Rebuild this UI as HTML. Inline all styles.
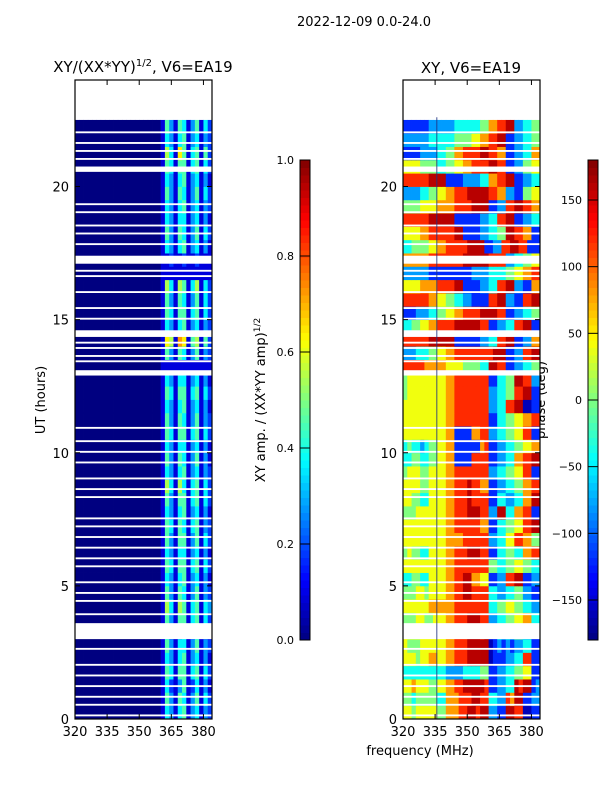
<!DOCTYPE html>
<html><head><meta charset="utf-8"><style>
html,body{margin:0;padding:0;background:#fff;}
svg{display:block;font-family:"DejaVu Sans","Liberation Sans",sans-serif;}
</style></head><body>
<svg id="fig" width="600" height="800" viewBox="0 0 600 800" xmlns="http://www.w3.org/2000/svg">
<text x="364" y="26" font-size="13" text-anchor="middle">2022-12-09 0.0-24.0</text>
<text x="143" y="72" font-size="15" text-anchor="middle">XY/(XX*YY)<tspan font-size="10" dy="-6">1/2</tspan><tspan dy="6">, V6=EA19</tspan></text>
<text x="471" y="73" font-size="15" text-anchor="middle">XY, V6=EA19</text>
<text transform="translate(45,400) rotate(-90)" font-size="13" text-anchor="middle">UT (hours)</text>
<text x="420" y="755" font-size="13" text-anchor="middle">frequency (MHz)</text>
<text transform="translate(265,400) rotate(-90)" font-size="13" text-anchor="middle">XY amp. / (XX*YY amp)<tspan font-size="9" dy="-5">1/2</tspan></text>
<text transform="translate(545,400) rotate(-90)" font-size="13" text-anchor="middle">phase (deg)</text>
<g id="left"></g>
<g id="right"></g>
<g id="axes"></g>
</svg>
<script>
const freqStart = 320, freqEnd = 384, freqStep = 2;
const hourStart = 0, hourEnd = 24, rowHours = 0.5;
const ampSuffix = ["143145134132","153154135142","142135124131","154155145142","143145134131","153144135132","142134124121","153155145142","164165145143","153154135132","143145134131","154155145142","143144134131","153155135142","154154145132","143145134131","153155145142","164164145142","143145134132","153154135131","143144134131","154155145142","153154135132","143145134131","154155145142","143144134131","111111111111","153154135132","176187156152","143145134132","154155145142","153154135142","164165146142","111111111111","112112112111","143145134131","153154135142","143144134131","143145134132","153154135142","143145134131","154155145142","164175145152","143145134132","153154135142"];
const ampRows = ampSuffix.map(s => "00000000000000000000" + s);
const phaseRows = ["55455555446667788788221188770011","44344444336667778877332276881122","55655544556677888887112233878812","33333333332222333344112233445511","55545566556677788888011122337711","54445555556677788888012121223311","55555555556677788878113333442211","44455445556677788877223344556633","55555566666677777777334455443322","44455455556677887777332233442211","33443355556677886655112277881122","55555555556677777777443344554433","45443355556677788877113344336677","55555555556666777777223355776644","55555555556677777766113344557788","44455555556677788877228833667711","55443355556677787777113322336688","55554455556677787766112233446677","45554455556677777777223344557711","33443344556611117777112233667788","34332344556611111167112233445566","55555555556611116677223344557711","55555555556677777777113344556677","55555555556677777777223377880011","45555555556677777777223344778811","45555555556677777777113344887722","77777666665555444433887711223344","22233344556677777777788811227788","77777788888811111122337788112266","33445566777788888877112233778811","11122233445566777788887711223344","77777766554433221111778822117788","55556666777788111122337788221166","22222211111111112222333344556677","66666677777777888888777722334455","33444455667777788881122778877111","55556677777788111122334488776611","77777788888811111122337788112233","44445555666677778888112277887766","22223344556677788888776622114455","77777788881111222233667788112233","55554444334455667777887711224455","11112222334466777788776611223366","22222233333344445566778811223344","11111122222233333344667788223344"];
const gapStarts = [22.55,22.0,21.6,21.3,21.0,20.55,19.3,19.0,18.5,18.2,17.8,17.1,16.8,16.6,16.0,15.4,15.0,14.35,14.1,13.9,13.6,13.4,12.9,10.9,10.4,10.0,9.6,9.0,8.6,8.3,7.5,7.2,6.8,6.4,6.0,5.7,5.1,4.7,4.4,3.9,3.0,2.6,2.0,1.6,1.2,0.8,0.5,0.1];
const gapLengths = [1.45,0.07,0.07,0.07,0.07,0.2,0.07,0.07,0.07,0.07,0.07,0.3,0.07,0.07,0.07,0.07,0.07,0.25,0.07,0.07,0.07,0.07,0.2,0.07,0.07,0.07,0.07,0.07,0.07,0.07,0.07,0.07,0.07,0.07,0.07,0.07,0.07,0.07,0.07,0.07,0.6,0.07,0.07,0.07,0.07,0.07,0.07,0.07];
const yTicks = [0,5,10,15,20];
const xTicks = [320,335,350,365,380];
const ampTicks = [0.0,0.2,0.4,0.6,0.8,1.0];
const phaseTicks = [-150,-100,-50,0,50,100,150];

const NS = "http://www.w3.org/2000/svg";
const panels = [{x0:75,x1:212,id:"left"},{x0:403,x1:540,id:"right"}];
const yTop = 80, yBot = 719;
function yScale(h){ return yBot - (h - hourStart) / (hourEnd - hourStart) * (yBot - yTop); }
function xScale(p,f){ return p.x0 + (f - freqStart) / (freqEnd - freqStart) * (p.x1 - p.x0); }
function jet(v){
  v = Math.max(0, Math.min(1, v));
  const r = Math.max(0, Math.min(1, 1.5 - Math.abs(4*v - 3)));
  const g = Math.max(0, Math.min(1, 1.5 - Math.abs(4*v - 2)));
  const b = Math.max(0, Math.min(1, 1.5 - Math.abs(4*v - 1)));
  return `rgb(${Math.round(r*255)},${Math.round(g*255)},${Math.round(b*255)})`;
}
function mk(tag, attrs, parent){ const e = document.createElementNS(NS, tag); for (const k in attrs) e.setAttribute(k, attrs[k]); parent.appendChild(e); return e; }

function drawHeat(p, rows, toVal){
  const g = document.getElementById(p.id);
  rows.forEach((row, i) => {
    const h0 = hourStart + i*rowHours, h1 = h0 + rowHours;
    for (let j = 0; j < row.length; j++) {
      const f0 = freqStart + j*freqStep;
      const xa = xScale(p, f0), xb = xScale(p, f0 + freqStep);
      const r = mk("rect", {x:xa.toFixed(2), y:yScale(h1).toFixed(2), width:(xb-xa+0.4).toFixed(2), height:(yScale(h0)-yScale(h1)+0.4).toFixed(2), fill:jet(toVal(row[j]))}, g);
      
      
    }
  });
  gapStarts.forEach((gs, k) => {
    const r = mk("rect", {x:p.x0, y:yScale(gs + gapLengths[k]), width:p.x1-p.x0, height:yScale(gs)-yScale(gs+gapLengths[k]), fill:"#fff"}, g);
    
    
  });
}
drawHeat(panels[0], ampRows, c => (+c)/11);
drawHeat(panels[1], phaseRows, c => ((+c)+0.5)/9);
const vl = mk("rect", {x:xScale(panels[1],335.5), y:yScale(22.6), width:1.2, height:yScale(0)-yScale(22.6), fill:"#203080", opacity:0.7}, document.getElementById("right"));



const ax = document.getElementById("axes");
panels.forEach((p, pi) => {
  const fr = mk("rect", {x:p.x0, y:yTop, width:p.x1-p.x0, height:yBot-yTop, fill:"none", stroke:"#000", "stroke-width":1.2}, ax);
  
  
  yTicks.forEach(t => {
    const y = yScale(t);
    mk("line", {x1:p.x0, x2:p.x0+5, y1:y, y2:y, stroke:"#000"}, ax);
    mk("line", {x1:p.x1, x2:p.x1-5, y1:y, y2:y, stroke:"#000"}, ax);
    const tx = mk("text", {x:p.x0-6, y:y+5, "font-size":13, "text-anchor":"end"}, ax);
    tx.textContent = t;
    
    
  });
  xTicks.forEach(t => {
    const x = xScale(p, t);
    mk("line", {x1:x, x2:x, y1:yBot, y2:yBot-5, stroke:"#000"}, ax);
    mk("line", {x1:x, x2:x, y1:yTop, y2:yTop+5, stroke:"#000"}, ax);
    const tx = mk("text", {x:x, y:yBot+17, "font-size":13, "text-anchor":"middle"}, ax);
    tx.textContent = t;
    
    
  });
});

const cbTop = 160, cbBot = 640;
function drawCbar(x0, vmin, vmax, ticks, name, fmt){
  const g = mk("g", {}, ax);
  
  
  const n = 64;
  for (let i = 0; i < n; i++) {
    const ya = cbBot - (i+1)*(cbBot-cbTop)/n;
    mk("rect", {x:x0, y:ya.toFixed(2), width:10, height:((cbBot-cbTop)/n+0.5).toFixed(2), fill:jet((i+0.5)/n)}, g);
  }
  mk("rect", {x:x0, y:cbTop, width:10, height:cbBot-cbTop, fill:"none", stroke:"#000", "stroke-width":1}, g);
  ticks.forEach(t => {
    const y = cbBot - (t - vmin)/(vmax - vmin)*(cbBot - cbTop);
    mk("line", {x1:x0, x2:x0+10, y1:y, y2:y, stroke:"#000"}, g);
    const tx = mk("text", {x:x0-6, y:y+4, "font-size":11, "text-anchor":"end"}, g);
    tx.textContent = fmt(t);
    
    
  });
}
drawCbar(300, 0, 1, ampTicks, "amplitude-colorbar", t => t.toFixed(1));
drawCbar(588, -180, 180, phaseTicks, "phase-colorbar", t => (t < 0 ? "\u2212" + (-t) : "" + t));
</script>
</body></html>
